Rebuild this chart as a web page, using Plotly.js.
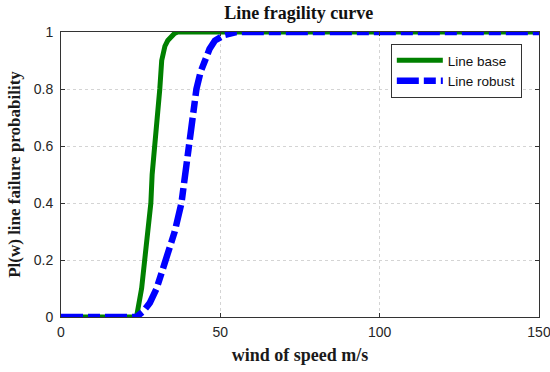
<!DOCTYPE html>
<html>
<head>
<meta charset="utf-8">
<script src="https://cdn.plot.ly/plotly-3.0.1.min.js"></script>
<style>html,body{margin:0;padding:0;background:#fff;}#chart{width:550px;height:372px;}</style>
</head>
<body>
<div id="chart"></div>
<script>
// Wind speed (m/s) and failure probability
const baseX = [0, 23.7, 25.3, 26.3, 27.4, 28.2, 28.6, 29.5, 30.2, 31.0, 31.6, 32.6, 33.5, 34.7, 35.6, 36.7, 150];
const baseY = [0, 0, 0.1, 0.2, 0.3, 0.4, 0.5, 0.6, 0.7, 0.8, 0.9, 0.95, 0.97, 0.985, 0.995, 1, 1];
const robustX = [0, 23.7, 25.8, 27.9, 30.0, 33.1, 35.7, 37.8, 38.9, 39.8, 41.0, 42.5, 43.8, 45.1, 46.6, 48.3, 51.4, 55, 150];
const robustY = [0, 0, 0.02, 0.05, 0.1, 0.2, 0.3, 0.4, 0.5, 0.6, 0.7, 0.8, 0.86, 0.9, 0.94, 0.97, 0.99, 1, 1];
const seriesNames = ["Line base", "Line robust"];
const xTicks = [0, 50, 100, 150];
const yTicks = [0, 0.2, 0.4, 0.6, 0.8, 1];
const yTickText = ["0", "0.2", "0.4", "0.6", "0.8", "1"];

const data = [
  {x: baseX, y: baseY, type: "scatter", mode: "lines", name: seriesNames[0],
   line: {color: "#008000", width: 5}},
  {x: robustX, y: robustY, type: "scatter", mode: "lines", name: seriesNames[1],
   line: {color: "#0000ff", width: 6.5, dash: "22px,5px,12px,5px"}}
];

const tickFont = {family: "Liberation Sans, Arial, sans-serif", size: 14, color: "#262626"};
const serif = "Liberation Serif, Times New Roman, serif";

const layout = {
  width: 550, height: 372,
  margin: {l: 61, r: 11, t: 32, b: 55, pad: 0},
  paper_bgcolor: "#ffffff", plot_bgcolor: "#ffffff",
  showlegend: true,
  title: {text: "<b>Line fragility curve</b>", x: 0.543, xanchor: "center", y: 0.965, yanchor: "middle",
          font: {family: serif, size: 18, color: "#111"}},
  xaxis: {
    range: [0, 150], tickvals: xTicks, ticktext: xTicks.map(String),
    showline: true, linecolor: "#333", linewidth: 1, mirror: "ticks",
    ticks: "inside", ticklen: 4, tickcolor: "#333",
    showgrid: true, gridcolor: "#d4d4d4", griddash: "dot", gridwidth: 1,
    zeroline: false, tickfont: tickFont, ticklabelstandoff: 2, ticklabeloverflow: "allow",
    title: {text: "<b>wind of speed m/s</b>", font: {family: serif, size: 18, color: "#1a1a1a"}, standoff: 9}
  },
  yaxis: {
    range: [0, 1], tickvals: yTicks, ticktext: yTickText,
    showline: true, linecolor: "#333", linewidth: 1, mirror: "ticks",
    ticks: "inside", ticklen: 4, tickcolor: "#333",
    showgrid: true, gridcolor: "#d4d4d4", griddash: "dot", gridwidth: 1,
    zeroline: false, tickfont: tickFont, ticklabelstandoff: 4, ticklabeloverflow: "allow",
    title: {text: "<b>Pl(w) line failure probability</b>", font: {family: serif, size: 17, color: "#1a1a1a"}, standoff: 8}
  },
  legend: {
    x: 0.69, y: 0.958, xanchor: "left", yanchor: "top",
    bgcolor: "#ffffff", bordercolor: "#333", borderwidth: 1,
    font: {family: "Liberation Sans, Arial, sans-serif", size: 13.5, color: "#111"},
    itemwidth: 46, tracegroupgap: 0
  }
};

Plotly.newPlot("chart", data, layout, {displayModeBar: false, staticPlot: true});
</script>
</body>
</html>
